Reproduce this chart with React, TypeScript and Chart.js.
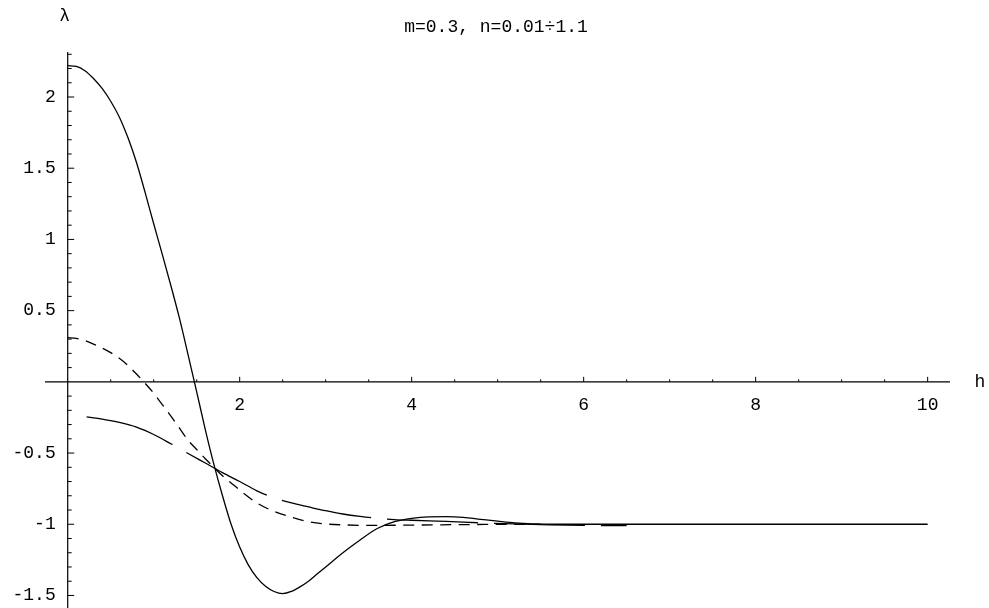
import React, { useEffect, useRef } from "react";
import { Chart, registerables } from "chart.js";

Chart.register(...registerables);

// Solid curve
const hSolid = [0, 0.1, 0.2, 0.3, 0.4, 0.5, 0.6, 0.7, 0.8, 0.9, 1.0, 1.1, 1.2, 1.3, 1.4, 1.5, 1.6, 1.7, 1.8, 1.9, 2.0, 2.1, 2.2, 2.3, 2.4, 2.5, 2.6, 2.7, 2.8, 2.9, 3.0, 3.2, 3.4, 3.6, 3.8, 4.0, 4.2, 4.4, 4.6, 4.8, 5.0, 5.2, 5.4, 5.7, 6.5, 8, 10];
const lambdaSolid = [2.22, 2.215, 2.185, 2.13, 2.06, 1.97, 1.86, 1.715, 1.54, 1.33, 1.11, 0.895, 0.675, 0.445, 0.19, -0.07, -0.335, -0.58, -0.8, -1.0, -1.16, -1.285, -1.375, -1.435, -1.472, -1.487, -1.472, -1.44, -1.4, -1.35, -1.3, -1.2, -1.11, -1.03, -0.982, -0.958, -0.948, -0.947, -0.952, -0.965, -0.978, -0.99, -0.997, -1.0, -1.0, -1.0, -1.0];

// Short-dashed curve
const hDashed = [0, 0.1, 0.2, 0.3, 0.4, 0.5, 0.6, 0.7, 0.8, 0.9, 1.0, 1.1, 1.2, 1.3, 1.4, 1.5, 1.6, 1.7, 1.8, 1.9, 2.0, 2.2, 2.4, 2.6, 2.8, 3.0, 3.2, 3.5, 4.0, 4.5, 5.0, 5.5];
const lambdaDashed = [0.31, 0.305, 0.29, 0.265, 0.237, 0.205, 0.165, 0.115, 0.055, -0.01, -0.08, -0.16, -0.24, -0.325, -0.41, -0.475, -0.54, -0.6, -0.66, -0.71, -0.76, -0.85, -0.91, -0.95, -0.982, -0.998, -1.004, -1.008, -1.006, -1.003, -1.001, -1.0];

// Long-dashed curve
const hLong = [0.22, 0.4, 0.6, 0.8, 1.0, 1.2, 1.4, 1.6, 1.8, 2.0, 2.2, 2.4, 2.6, 2.8, 3.0, 3.2, 3.4, 3.6, 3.8, 4.0, 4.4, 4.8, 5.2, 5.6, 6.0, 6.5];
const lambdaLong = [-0.246, -0.262, -0.285, -0.318, -0.37, -0.435, -0.503, -0.57, -0.637, -0.7, -0.765, -0.815, -0.85, -0.878, -0.905, -0.928, -0.945, -0.958, -0.967, -0.972, -0.98, -0.99, -0.998, -1.004, -1.008, -1.01];

const xTickLabels = [2, 4, 6, 8, 10];
const yTickLabels = [-1.5, -1, -0.5, 0.5, 1, 1.5, 2];
const titleText = "m=0.3, n=0.01÷1.1";
const xAxisLabel = "h";
const yAxisLabel = "λ";

const FONT = "18px 'Liberation Mono', 'DejaVu Sans Mono', monospace";

const zip = (xs: number[], ys: number[]) => xs.map((x, i) => ({ x, y: ys[i] }));

const axesPlugin = {
  id: "mmaAxes",
  beforeDatasetsDraw(chart: any) {
    const ctx = chart.ctx;
    const xs = chart.scales.x;
    const ys = chart.scales.y;
    const area = chart.chartArea;
    const x0 = xs.getPixelForValue(0);
    const y0 = ys.getPixelForValue(0);
    ctx.save();
    ctx.strokeStyle = "#000";
    ctx.fillStyle = "#000";
    ctx.lineWidth = 1.2;
    ctx.beginPath();
    ctx.moveTo(area.left, y0);
    ctx.lineTo(area.right, y0);
    ctx.moveTo(x0, area.top);
    ctx.lineTo(x0, area.bottom + 2);
    ctx.stroke();
    ctx.lineWidth = 1;
    ctx.beginPath();
    for (let k = 1; k <= 20; k++) {
      const v = k * 0.5;
      const px = xs.getPixelForValue(v);
      const len = k % 4 === 0 ? 5 : 2.5;
      ctx.moveTo(px, y0);
      ctx.lineTo(px, y0 - len);
    }
    for (let k = -16; k <= 23; k++) {
      if (k === 0) continue;
      const v = k / 10;
      const py = ys.getPixelForValue(v);
      const len = k % 5 === 0 ? 6.5 : 4;
      ctx.moveTo(x0, py);
      ctx.lineTo(x0 + len, py);
    }
    ctx.stroke();
    ctx.font = FONT;
    ctx.textAlign = "center";
    ctx.textBaseline = "middle";
    xTickLabels.forEach((v) => {
      ctx.fillText(String(v), xs.getPixelForValue(v), y0 + 23);
    });
    ctx.textAlign = "right";
    yTickLabels.forEach((v) => {
      ctx.fillText(String(v), x0 - 12, ys.getPixelForValue(v));
    });
    ctx.textAlign = "center";
    ctx.fillText(xAxisLabel, 980, y0);
    ctx.fillText(yAxisLabel, x0 - 3, 16);
    ctx.fillText(titleText, 496, 27);
    ctx.restore();
  },
};

export default function App() {
  const ref = useRef<HTMLCanvasElement>(null);
  useEffect(() => {
    const canvas = ref.current;
    if (!canvas) return;
    const common = {
      showLine: true,
      borderColor: "#000",
      borderWidth: 1.3,
      pointRadius: 0,
      cubicInterpolationMode: "monotone" as const,
    };
    const chart = new Chart(canvas, {
      type: "scatter",
      data: {
        datasets: [
          { ...common, data: zip(hSolid, lambdaSolid) },
          { ...common, data: zip(hDashed, lambdaDashed), borderDash: [11, 7.5] },
          { ...common, data: zip(hLong, lambdaLong), borderDash: [91, 16] },
        ],
      },
      options: {
        responsive: false,
        animation: false,
        devicePixelRatio: 1,
        layout: { padding: { left: 45, right: 39, top: 52, bottom: 0 } },
        plugins: { legend: { display: false }, tooltip: { enabled: false }, title: { display: false } },
        scales: {
          x: { type: "linear", min: -0.264, max: 10.26, display: false },
          y: { type: "linear", min: -1.588, max: 2.316, display: false },
        },
        events: [],
      },
      plugins: [axesPlugin],
    });
    return () => chart.destroy();
  }, []);
  return (
    <div style={{ position: "fixed", left: 0, top: 0, width: 989, height: 608, background: "#fff" }}>
      <canvas ref={ref} width={989} height={608} />
    </div>
  );
}
